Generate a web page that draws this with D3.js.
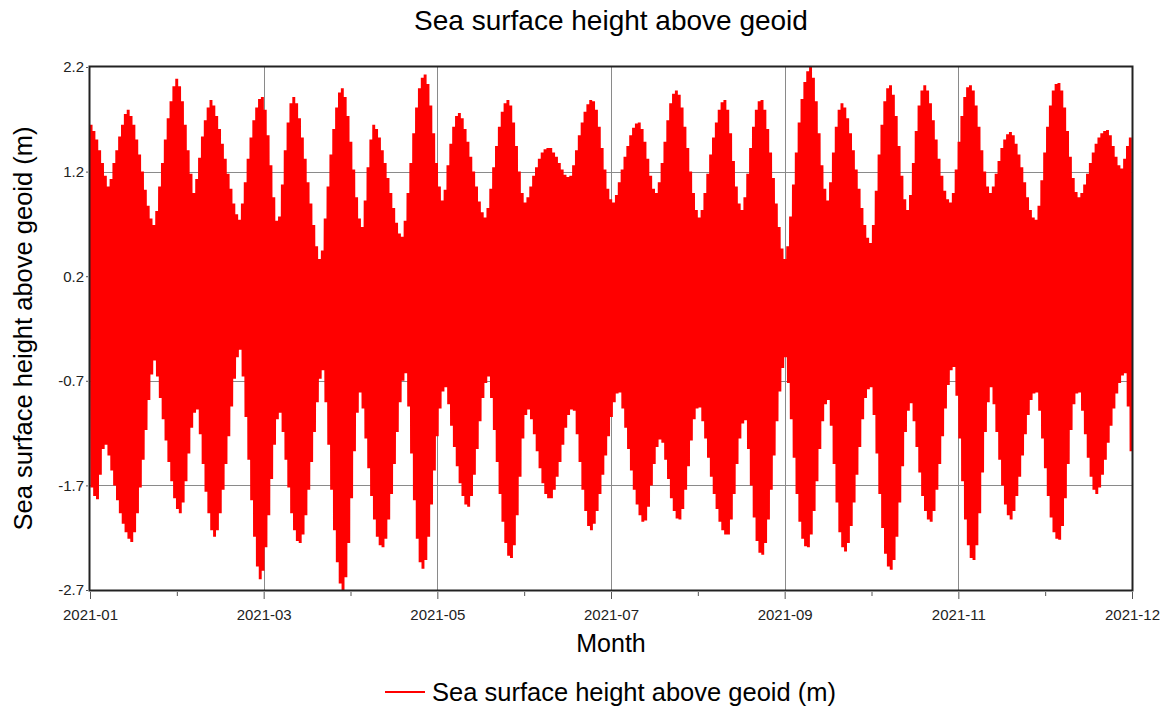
<!DOCTYPE html>
<html>
<head>
<meta charset="utf-8">
<script src="https://cdn.jsdelivr.net/npm/d3@7"></script>
<style>
    body { margin: 0; background: #fff; }
    text { font-family: "Liberation Sans", Arial, sans-serif; }
</style>
</head>
<body>
<div id="container"></div>
<script>
// daily high-water / low-water levels (m), 2021-01-01 .. 2021-12-31
const dailyHigh = [
    1.66,1.60,1.52,1.42,1.30,1.18,1.08,1.15,1.30,1.42,
    1.55,1.66,1.76,1.80,1.74,1.66,1.52,1.38,1.22,1.05,
    0.90,0.78,0.72,0.85,1.08,1.30,1.52,1.72,1.88,2.02,
    2.09,2.02,1.88,1.66,1.42,1.20,1.02,1.15,1.35,1.55,
    1.70,1.82,1.89,1.84,1.74,1.62,1.48,1.34,1.20,1.06,
    0.92,0.82,0.77,0.92,1.12,1.34,1.54,1.70,1.82,1.90,
    1.92,1.80,1.56,1.28,0.98,0.76,0.80,1.10,1.42,1.68,
    1.86,1.92,1.86,1.72,1.54,1.34,1.12,0.92,0.72,0.52,
    0.40,0.48,0.78,1.08,1.38,1.62,1.82,1.96,2.00,1.92,
    1.74,1.50,1.24,0.98,0.78,0.70,0.95,1.26,1.52,1.66,
    1.62,1.54,1.42,1.30,1.16,1.02,0.88,0.74,0.64,0.61,
    0.76,1.02,1.30,1.58,1.82,2.00,2.10,2.13,2.04,1.84,
    1.58,1.30,1.08,0.95,1.05,1.28,1.48,1.64,1.74,1.77,
    1.72,1.62,1.50,1.36,1.22,1.08,0.94,0.84,0.79,0.88,
    1.06,1.26,1.46,1.64,1.78,1.86,1.89,1.84,1.68,1.46,
    1.22,1.02,0.93,0.98,1.08,1.18,1.26,1.34,1.40,1.43,
    1.44,1.44,1.40,1.36,1.30,1.24,1.19,1.17,1.18,1.28,
    1.42,1.56,1.68,1.78,1.85,1.89,1.88,1.80,1.64,1.44,
    1.24,1.06,0.96,0.93,1.00,1.12,1.24,1.36,1.46,1.56,
    1.63,1.67,1.68,1.62,1.50,1.34,1.18,1.06,1.02,1.12,
    1.30,1.50,1.70,1.86,1.95,1.98,1.94,1.82,1.64,1.44,
    1.22,1.02,0.86,0.79,0.86,1.02,1.20,1.38,1.54,1.68,
    1.80,1.87,1.89,1.80,1.58,1.32,1.08,0.92,0.86,0.98,
    1.20,1.44,1.64,1.80,1.88,1.89,1.80,1.62,1.40,1.16,
    0.92,0.70,0.50,0.40,0.52,0.80,1.10,1.40,1.68,1.90,
    2.06,2.16,2.20,2.10,1.88,1.58,1.28,1.06,0.95,1.12,
    1.40,1.64,1.80,1.86,1.82,1.72,1.58,1.42,1.24,1.06,
    0.88,0.72,0.60,0.55,0.72,1.04,1.38,1.66,1.88,2.00,
    2.03,1.94,1.74,1.46,1.18,0.96,0.86,1.00,1.30,1.60,
    1.84,1.98,2.03,1.98,1.86,1.70,1.52,1.34,1.18,1.04,
    0.96,0.93,1.02,1.24,1.50,1.74,1.92,2.01,2.03,1.98,
    1.84,1.64,1.42,1.22,1.08,1.02,1.08,1.20,1.32,1.44,
    1.52,1.57,1.59,1.56,1.48,1.38,1.26,1.12,0.98,0.86,
    0.79,0.77,0.90,1.14,1.40,1.64,1.84,1.98,2.04,2.05,
    1.98,1.82,1.60,1.36,1.16,1.03,0.98,1.02,1.10,1.20,
    1.30,1.40,1.48,1.54,1.58,1.60,1.61,1.56,1.46,1.36,
    1.28,1.25,1.34,1.46,1.54
]
const dailyLow = [
    -1.74,-1.82,-1.85,-1.62,-1.38,-1.34,-1.44,-1.58,-1.72,-1.86,
    -1.98,-2.08,-2.16,-2.22,-2.25,-2.16,-1.98,-1.74,-1.48,-1.20,
    -0.92,-0.68,-0.55,-0.70,-0.90,-1.10,-1.30,-1.50,-1.68,-1.84,
    -1.94,-1.98,-1.88,-1.68,-1.42,-1.18,-1.04,-1.01,-1.24,-1.52,
    -1.78,-1.98,-2.14,-2.20,-2.14,-1.98,-1.76,-1.52,-1.26,-0.98,
    -0.72,-0.52,-0.45,-0.70,-1.08,-1.48,-1.86,-2.20,-2.48,-2.60,
    -2.52,-2.30,-2.00,-1.66,-1.34,-1.10,-1.04,-1.22,-1.48,-1.74,
    -1.98,-2.14,-2.24,-2.26,-2.18,-2.00,-1.76,-1.50,-1.22,-0.94,
    -0.72,-0.64,-0.94,-1.34,-1.76,-2.14,-2.44,-2.64,-2.70,-2.58,
    -2.26,-1.84,-1.40,-1.04,-0.85,-1.00,-1.28,-1.56,-1.82,-2.04,
    -2.20,-2.28,-2.30,-2.22,-2.04,-1.80,-1.52,-1.22,-0.94,-0.74,
    -0.67,-0.98,-1.42,-1.86,-2.22,-2.44,-2.50,-2.42,-2.20,-1.90,
    -1.58,-1.26,-1.00,-0.84,-0.80,-0.96,-1.16,-1.36,-1.54,-1.70,
    -1.82,-1.90,-1.92,-1.82,-1.62,-1.38,-1.12,-0.90,-0.76,-0.70,
    -0.90,-1.20,-1.50,-1.80,-2.06,-2.26,-2.38,-2.40,-2.28,-2.00,
    -1.64,-1.28,-1.06,-1.01,-1.10,-1.24,-1.40,-1.56,-1.70,-1.80,
    -1.84,-1.84,-1.76,-1.64,-1.50,-1.34,-1.18,-1.06,-1.01,-1.02,
    -1.24,-1.50,-1.76,-1.96,-2.10,-2.14,-2.08,-1.96,-1.80,-1.62,
    -1.44,-1.26,-1.08,-0.94,-0.86,-0.85,-1.00,-1.18,-1.38,-1.58,
    -1.76,-1.90,-2.00,-2.06,-2.05,-1.92,-1.72,-1.52,-1.36,-1.29,
    -1.32,-1.48,-1.66,-1.84,-1.96,-2.03,-2.04,-1.94,-1.76,-1.54,
    -1.30,-1.10,-1.00,-0.99,-1.12,-1.28,-1.46,-1.64,-1.80,-1.94,
    -2.06,-2.14,-2.18,-2.18,-2.04,-1.80,-1.52,-1.28,-1.14,-1.11,
    -1.38,-1.72,-2.02,-2.24,-2.35,-2.37,-2.26,-2.04,-1.76,-1.44,
    -1.12,-0.84,-0.62,-0.52,-0.76,-1.10,-1.46,-1.80,-2.06,-2.22,
    -2.29,-2.30,-2.18,-1.96,-1.68,-1.38,-1.12,-0.96,-0.92,-1.16,
    -1.52,-1.88,-2.16,-2.30,-2.34,-2.26,-2.10,-1.88,-1.62,-1.36,
    -1.10,-0.90,-0.82,-0.80,-1.06,-1.42,-1.80,-2.12,-2.36,-2.48,
    -2.51,-2.42,-2.20,-1.88,-1.54,-1.22,-1.02,-0.95,-1.12,-1.36,
    -1.60,-1.82,-1.96,-2.04,-2.06,-1.96,-1.76,-1.52,-1.26,-1.00,
    -0.78,-0.64,-0.61,-0.88,-1.28,-1.68,-2.04,-2.28,-2.40,-2.42,
    -2.28,-1.98,-1.60,-1.22,-0.94,-0.80,-0.96,-1.22,-1.48,-1.72,
    -1.90,-2.00,-2.04,-1.96,-1.82,-1.64,-1.44,-1.24,-1.06,-0.92,
    -0.86,-0.85,-1.02,-1.28,-1.56,-1.82,-2.02,-2.16,-2.22,-2.23,
    -2.10,-1.84,-1.52,-1.20,-0.96,-0.86,-0.85,-1.02,-1.24,-1.46,
    -1.64,-1.76,-1.80,-1.74,-1.62,-1.48,-1.32,-1.16,-1.00,-0.86,
    -0.76,-0.69,-0.67,-0.98,-1.40
]
const xTickLabels = ["2021-01", "2021-03", "2021-05", "2021-07", "2021-09", "2021-11", "2021-12"]
const yTickLabels = ["-2.7", "-1.7", "-0.7", "0.2", "1.2", "2.2"]
const seriesName = "Sea surface height above geoid (m)"

const w = 1172
const h = 711
const margin = { top: 67, right: 40, bottom: 121, left: 90 }
const red = "#ff0000"

const svg = d3.select("#container")
    .append("svg")
    .attr("width", w)
    .attr("height", h)
    .style("display", "block")
    .style("background-color", "white")

// semidiurnal tide: two highs and two lows a day, at that day's levels
const start = new Date(2021, 0, 1)
const dayMs = 24 * 3600 * 1000
const series = []
dailyHigh.forEach((hi, i) => {
    const lo = dailyLow[i]
    ;[hi, lo, hi, lo].forEach((v, k) => {
        series.push({ t: new Date(+start + (i + 0.125 + k * 0.25) * dayMs), v: v })
    })
})

const end = new Date(2021, 11, 31, 23)
const xScale = d3.scaleTime()
    .domain([start, end])
    .range([margin.left, w - margin.right])
const yScale = d3.scaleLinear()
    .domain([d3.min(dailyLow), d3.max(dailyHigh)])
    .range([h - margin.bottom, margin.top])

// 13 evenly spaced x ticks, every other one labelled
const xTicks = d3.range(13).map((i) => new Date(+start + i * (end - start) / 12))
const yDom = yScale.domain()
const yTicks = yTickLabels.map((d, i) => yDom[0] + i * (yDom[1] - yDom[0]) / (yTickLabels.length - 1))

const grid = svg.append("g").attr("stroke", "#8a8a8a").attr("stroke-width", 1)
grid.selectAll(null)
    .data(yTicks.slice(1, -1))
    .enter()
    .append("line")
    .attr("x1", margin.left)
    .attr("x2", w - margin.right)
    .attr("y1", (d) => Math.round(yScale(d)) + 0.5)
    .attr("y2", (d) => Math.round(yScale(d)) + 0.5)
grid.selectAll(null)
    .data(xTicks.filter((d, i) => i % 2 === 0).slice(1, -1))
    .enter()
    .append("line")
    .attr("x1", (d) => Math.round(xScale(d)) + 0.5)
    .attr("x2", (d) => Math.round(xScale(d)) + 0.5)
    .attr("y1", margin.top)
    .attr("y2", h - margin.bottom)

svg.append("defs").append("clipPath")
    .attr("id", "plot-clip")
    .append("rect")
    .attr("x", margin.left)
    .attr("y", margin.top)
    .attr("width", w - margin.left - margin.right)
    .attr("height", h - margin.top - margin.bottom)

const line = d3.line()
    .x((d) => xScale(d.t))
    .y((d) => yScale(d.v))

svg.append("path")
    .datum(series)
    .attr("clip-path", "url(#plot-clip)")
    .attr("fill", "none")
    .attr("stroke", red)
    .attr("stroke-width", 1.5)
    .attr("stroke-linejoin", "bevel")
    .attr("d", line)

svg.append("rect")
    .attr("x", margin.left - 0.5)
    .attr("y", margin.top - 0.5)
    .attr("width", w - margin.left - margin.right + 1)
    .attr("height", h - margin.top - margin.bottom + 1)
    .attr("fill", "none")
    .attr("stroke", "#222")
    .attr("stroke-width", 2)

// x axis
const xAxis = d3.axisBottom(xScale)
    .tickValues(xTicks)
    .tickSize(0)
    .tickPadding(19)
    .tickFormat((d, i) => i % 2 === 0 ? xTickLabels[Math.min(i / 2, xTickLabels.length - 1)] : "")
const gx = svg.append("g")
    .attr("transform", `translate(0, ${h - margin.bottom})`)
    .call(xAxis)
gx.select(".domain").remove()
gx.selectAll(".tick").append("line")
    .attr("stroke", "#555")
    .attr("y1", 2)
    .attr("y2", (d, i) => i % 2 === 0 ? 9 : 6)
gx.selectAll("text")
    .style("font-size", "15px")
    .attr("fill", "#222")

// y axis
const yAxis = d3.axisLeft(yScale)
    .tickValues(yTicks)
    .tickSize(0)
    .tickPadding(6)
    .tickFormat((d, i) => yTickLabels[i])
const gy = svg.append("g")
    .attr("transform", `translate(${margin.left}, 0)`)
    .call(yAxis)
gy.select(".domain").remove()
gy.selectAll(".tick").append("line")
    .attr("stroke", "#555")
    .attr("x1", -2)
    .attr("x2", -4)
gy.selectAll("text")
    .style("font-size", "15px")
    .attr("fill", "#222")

svg.append("text")
    .attr("x", 611)
    .attr("y", 30)
    .attr("text-anchor", "middle")
    .style("font-size", "28px")
    .text("Sea surface height above geoid")

svg.append("text")
    .attr("transform", `translate(32, ${(margin.top + h - margin.bottom) / 2}) rotate(-90)`)
    .attr("text-anchor", "middle")
    .style("font-size", "25.5px")
    .text(seriesName)

svg.append("text")
    .attr("x", 611)
    .attr("y", 652)
    .attr("text-anchor", "middle")
    .style("font-size", "25px")
    .text("Month")

const legend = svg.append("g").attr("transform", "translate(385, 692)")
legend.append("line")
    .attr("x1", 0)
    .attr("x2", 40)
    .attr("stroke", red)
    .attr("stroke-width", 2)
legend.append("text")
    .attr("x", 47)
    .attr("y", 9)
    .style("font-size", "25.5px")
    .text(seriesName)
</script>
</body>
</html>
